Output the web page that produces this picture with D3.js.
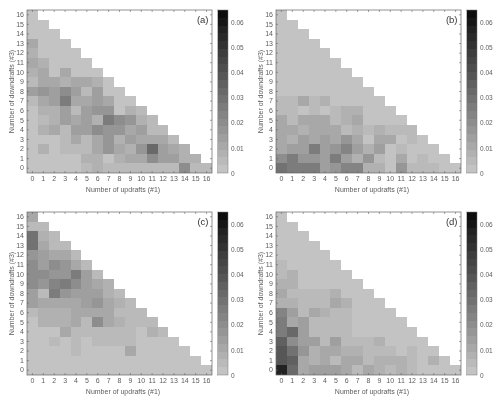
<!DOCTYPE html>
<html><head><meta charset="utf-8">
<script src="https://d3js.org/d3.v7.min.js"></script>
<style>html,body{margin:0;padding:0;background:#fff}svg{display:block}text{font-family:"Liberation Sans",Arial,sans-serif}</style>
</head><body><div id="c"></div>
<script>
// Rows listed from y = 16 (top) to y = 0; each row holds x = 0 .. 16-y. Values in thousandths.
const gridA = [
[3],
[2,2],
[2,2,2],
[12,3,3,3],
[8,3,3,3,3],
[11,8,3,3,3,3],
[7,11,3,11,3,3,3],
[5,12,12,8,11,11,8,3],
[14,16,13,20,15,6,15,3,3],
[4,12,15,25,12,12,15,10,3,3],
[3,7,7,13,5,13,16,16,3,8,5],
[3,4,7,13,10,13,8,26,19,16,9,4],
[3,8,10,6,13,13,20,16,16,12,14,5,5],
[3,3,3,6,10,6,12,18,9,15,11,11,11,5],
[3,7,3,6,6,6,10,18,10,9,16,32,13,12,7],
[3,3,3,3,3,8,7,3,7,12,12,20,13,13,9,7],
[3,3,3,3,3,4,9,4,4,4,4,4,6,6,20,6,4]];
const gridB = [
[3],
[3,3],
[3,3,3],
[3,3,3,3],
[3,3,3,3,3],
[3,3,3,3,3,3],
[3,3,3,3,3,3,3],
[3,3,3,3,3,3,3,3],
[3,3,3,3,3,3,3,3,3],
[4,4,11,6,9,3,3,3,3,3],
[6,6,3,6,3,6,8,8,3,3,3],
[12,4,10,10,10,5,8,10,3,3,3,3],
[12,10,8,11,11,11,5,9,4,9,4,4,4],
[12,8,15,10,15,10,17,10,3,12,11,3,6,3],
[12,15,15,27,14,17,24,14,8,15,3,6,3,3,3],
[20,27,18,18,14,26,15,7,16,6,3,10,3,5,3,3],
[30,26,26,25,15,17,24,24,9,9,3,18,5,6,5,3,3]];
const gridC = [
[12],
[5,5],
[28,8,5],
[28,10,4,4],
[18,15,11,10,5],
[19,14,19,18,11,5],
[19,20,18,17,25,13,6],
[20,18,23,25,21,14,12,9],
[15,5,26,18,15,13,13,9,6],
[15,10,11,11,11,15,17,11,7,6],
[4,9,9,9,12,10,10,12,5,6,5],
[3,7,9,9,12,5,20,12,9,6,5,5],
[3,3,3,10,6,6,6,4,4,6,3,8,4],
[3,3,6,3,6,3,6,6,6,6,3,3,3,3],
[3,3,3,3,6,3,3,3,3,10,3,3,3,3,3],
[3,3,3,3,3,3,3,3,3,3,3,3,3,3,3,3],
[3,3,3,3,3,3,3,3,3,3,3,3,3,3,3,3,3]];
const gridD = [
[3],
[3,3],
[3,3,3],
[3,3,3,3],
[3,3,3,3,3],
[6,3,3,3,3,3],
[4,7,3,3,3,3,3],
[9,7,3,3,3,3,3,3],
[11,5,6,6,4,7,3,3,3],
[9,9,6,6,6,10,7,3,3,3],
[22,13,5,11,9,5,4,3,3,3,3],
[26,10,15,6,6,6,5,3,3,3,3,3],
[26,34,14,6,6,6,5,3,3,3,3,3,3],
[36,19,14,14,6,15,5,5,5,8,3,3,3,3],
[40,30,18,8,12,10,7,7,5,5,5,3,6,3,3],
[40,35,12,8,12,6,11,11,5,8,8,8,5,3,7,3],
[58,32,11,13,14,14,11,5,11,8,5,8,5,3,3,3,3]];
const panelLabels = ["(a)","(b)","(c)","(d)"];
const grids = [gridA, gridB, gridC, gridD];
const xTicks = d3.range(0,17);
const yTicks = d3.range(0,17);
const barTicks = [0,0.01,0.02,0.03,0.04,0.05,0.06];
const barTickLabels = ["0","0.01","0.02","0.03","0.04","0.05","0.06"];
const xTitle = "Number of updrafts (#1)";
const yTitle = "Number of downdrafts (#3)";
const vMax = 0.065, nBands = 21;

const W=500,H=402;
const svg=d3.select("#c").append("svg").attr("width",W).attr("height",H);
const defs=svg.append("defs");
defs.append("filter").attr("id","soft").attr("filterUnits","userSpaceOnUse").attr("x",0).attr("y",0).attr("width",W).attr("height",H)
  .append("feGaussianBlur").attr("stdDeviation",0.55);
const root=svg.append("g").attr("filter","url(#soft)");
const gray=d3.scaleLinear().domain([0,vMax]).range([200,10]);
const band=v=>{const i=Math.min(nBands-1,Math.floor(v/vMax*nBands));const g=Math.round(gray((i+0.5)/nBands*vMax));return `rgb(${g},${g},${g})`;};
const txt="#5c5c5c";
const origins=[[27,10],[276,10],[27,212],[276,212]];
const pw=185,ph=163;
grids.forEach((grid,k)=>{
  const [ox,oy]=origins[k];
  const g=root.append("g").attr("transform",`translate(${ox},${oy})`);
  const x=d3.scaleBand().domain(xTicks).range([0,pw]).padding(0);
  const y=d3.scaleBand().domain(yTicks.slice().reverse()).range([0,ph]).padding(0);
  const cells=grid.flatMap((row,r)=>row.map((v,c)=>({x:c,y:16-r,v:v/1000})));
  g.selectAll("rect.c").data(cells).join("rect").attr("class","c")
    .attr("x",d=>x(d.x)).attr("y",d=>y(d.y)).attr("width",x.bandwidth()).attr("height",y.bandwidth())
    .attr("shape-rendering","crispEdges")
    .attr("fill",d=>band(d.v));
  g.append("rect").attr("width",pw).attr("height",ph).attr("fill","none").attr("stroke","#666").attr("stroke-width",0.7);
  const ax=d3.axisBottom(x).tickSize(2).tickPadding(1.5);
  const axg=g.append("g").attr("transform",`translate(0,${ph})`).call(ax);
  const ay=d3.axisLeft(y).tickSize(2).tickPadding(1);
  const ayg=g.append("g").call(ay);
  [axg,ayg].forEach(a=>{a.select(".domain").remove();a.selectAll("line").attr("stroke","#666").attr("stroke-width",0.6);
    a.selectAll("text").attr("fill",txt).style("font-size","7px").style("font-family",'"Liberation Sans",Arial,sans-serif');});
  // inward ticks on all sides
  axg.selectAll("line").attr("y2",-2);
  ayg.selectAll("line").attr("x2",2);
  const topT=g.append("g").call(d3.axisTop(x).tickSize(-2).tickFormat(""));
  const rightT=g.append("g").attr("transform",`translate(${pw},0)`).call(d3.axisRight(y).tickSize(-2).tickFormat(""));
  [topT,rightT].forEach(a=>{a.select(".domain").remove();a.selectAll("line").attr("stroke","#666").attr("stroke-width",0.6);});
  g.append("text").attr("x",pw/2+3.5).attr("y",ph+19).attr("text-anchor","middle").attr("fill",txt).style("font-size","7px").text(xTitle);
  g.append("text").attr("transform",`translate(-13.5,${ph/2}) rotate(-90)`).attr("text-anchor","middle").attr("fill",txt).style("font-size","7px").text(yTitle);
  g.append("text").attr("x",pw-3.5).attr("y",12.5).attr("text-anchor","end").attr("fill","#333").style("font-size","9.5px").text(panelLabels[k]);
  // colour bar
  const bx=pw+5.5,bw=10.5;
  const by=d3.scaleLinear().domain([0,vMax]).range([ph,0]);
  const bands=d3.range(nBands);
  g.selectAll("rect.b").data(bands).join("rect").attr("class","b")
    .attr("x",bx).attr("width",bw)
    .attr("y",i=>by((i+1)/nBands*vMax)).attr("height",ph/nBands)
    .attr("shape-rendering","crispEdges")
    .attr("fill",i=>band((i+0.5)/nBands*vMax));
  g.append("rect").attr("x",bx).attr("width",bw).attr("height",ph).attr("fill","none").attr("stroke","#777").attr("stroke-width",0.5);
  const bAxis=d3.axisRight(by).tickValues(barTicks).tickSize(0).tickPadding(3).tickFormat((d,i)=>barTickLabels[i]);
  const bg=g.append("g").attr("transform",`translate(${bx+bw},0)`).call(bAxis);
  bg.select(".domain").remove();
  bg.selectAll("text").attr("fill",txt).style("font-size","6.5px").style("font-family",'"Liberation Sans",Arial,sans-serif');
});
</script></body></html>
